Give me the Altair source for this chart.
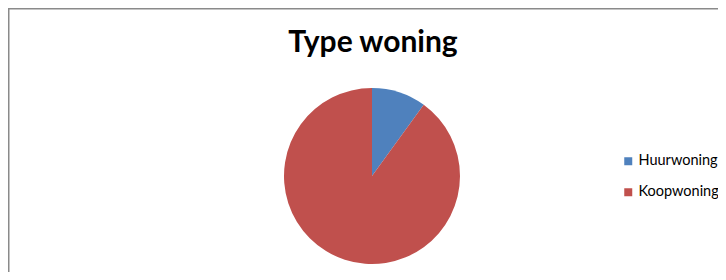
import altair as alt
import pandas as pd

categories = ["Huurwoning", "Koopwoning"]
values = [10, 90]
colors = ["#4F81BD", "#C0504D"]
title_text = "Type woning"

df = pd.DataFrame({"type": categories, "value": values, "order": [0, 1]})

W, H = 710, 264

pie = alt.Chart(df).mark_arc(outerRadius=88, stroke=None).encode(
    theta=alt.Theta("value:Q", stack=True),
    order=alt.Order("order:Q"),
    color=alt.Color(
        "type:N",
        scale=alt.Scale(domain=categories, range=colors),
        legend=alt.Legend(
            title=None,
            orient="none",
            legendX=613,
            legendY=146,
            symbolType="square",
            symbolSize=64,
            symbolStrokeWidth=0,
            labelFont="Lato",
            labelFontSize=14.5,
            labelColor="#000000",
            labelOffset=3,
            rowPadding=16,
            padding=0,
        ),
    ),
    x=alt.value(364),
    y=alt.value(168),
)

title = alt.Chart(pd.DataFrame({"t": [title_text]})).mark_text(
    font="Lato", fontWeight="bold", fontSize=30, color="#000000",
    align="center", baseline="alphabetic"
).encode(text="t:N", x=alt.value(365), y=alt.value(44))

top_border = alt.Chart(pd.DataFrame({"a": [0]})).mark_rule(
    color="#8a8a8a", strokeWidth=1.5
).encode(x=alt.value(0), x2=alt.value(W), y=alt.value(0.75))

left_border = alt.Chart(pd.DataFrame({"a": [0]})).mark_rule(
    color="#8a8a8a", strokeWidth=1.5
).encode(x=alt.value(0.75), y=alt.value(0), y2=alt.value(H))

chart = alt.layer(top_border, left_border, pie, title).properties(
    width=W, height=H, padding=0, autosize=alt.AutoSizeParams(type="none")
).configure_view(stroke=None).configure(background="white")

chart.save("out.html", embed_options={"renderer": "svg", "actions": False})
